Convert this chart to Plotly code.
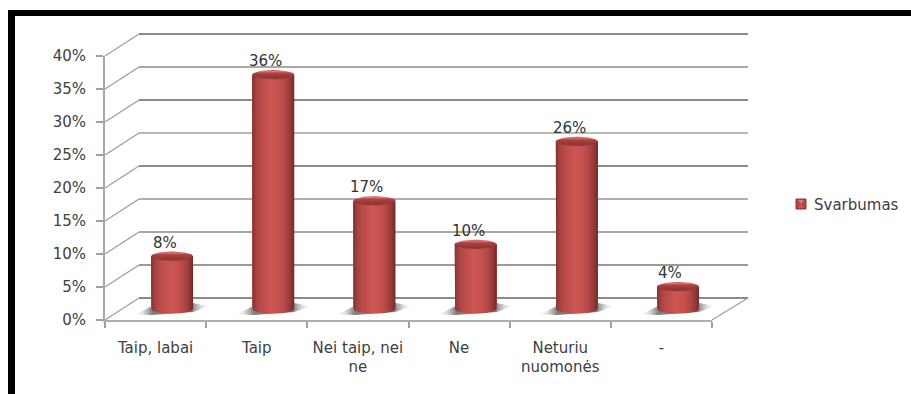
import numpy as np
import plotly.graph_objects as go

categories = ["Taip, labai", "Taip", "Nei taip, nei<br>ne", "Ne", "Neturiu<br>nuomonės", "-"]
values = [8.0, 35.5, 16.4, 9.8, 25.4, 3.4]
value_labels = ["8%", "36%", "17%", "10%", "26%", "4%"]
y_ticks = [0, 5, 10, 15, 20, 25, 30, 35, 40]
y_tick_labels = ["0%", "5%", "10%", "15%", "20%", "25%", "30%", "35%", "40%"]
series_name = "Svarbumas"

W, H = 911, 394
FONT = "DejaVu Sans"
TXT = "#404040"
GRID = {0: "#8a8a8a", 5: "#9a9a9a", 10: "#a8a8a8", 15: "#b0b0b0", 20: "#8a8a8a",
        25: "#b8b8b8", 30: "#8a8a8a", 35: "#a8a8a8", 40: "#8a8a8a"}

# pixel geometry of the fake 3D box
FX0, FX1, FY0, FY40 = 105, 712, 320, 56   # front plane
DX, DY = 34, -22                          # depth
PX_PER_PCT = (FY0 - FY40) / 40
STEP = (FX1 - FX0) / 6
MIDX0 = FX0 + STEP / 2 + DX / 2 - 0.5     # px of bar 0 centre
MIDY0 = FY0 + DY / 2                      # px of bars' zero


def px(x):
    return x / W


def py(y):
    return 1 - y / H


def line(x0, y0, x1, y1, color, width):
    return dict(type="line", xref="paper", yref="paper", x0=px(x0), y0=py(y0), x1=px(x1), y1=py(y1),
                line=dict(color=color, width=width), layer="below")


shapes = [
    dict(type="rect", xref="paper", yref="paper", x0=px(8), x1=px(15), y0=py(10), y1=0,
         fillcolor="black", line_width=0),
    dict(type="rect", xref="paper", yref="paper", x0=px(8), x1=1, y0=py(10), y1=py(16),
         fillcolor="black", line_width=0),
]
for t in y_ticks:
    yf = FY0 - t * PX_PER_PCT
    shapes.append(line(FX0, yf, FX0 + DX, yf + DY, "#9c9c9c", 1.2))
    shapes.append(line(FX0 + DX, yf + DY, FX1 + DX + 2, yf + DY, GRID[t], 2))
shapes.append(line(FX1, FY0, FX1 + DX + 2, FY0 + DY, "#a0a0a0", 1.2))

# legend swatch
shapes += [
    dict(type="rect", xref="paper", yref="paper", x0=px(796), x1=px(806), y0=py(199), y1=py(209),
         fillcolor="#b04744", line=dict(color="#8a3634", width=1)),
    dict(type="path", xref="paper", yref="paper",
         path=f"M {px(798)} {py(200)} L {px(801)} {py(204)} L {px(804)} {py(200)} Z", fillcolor="#dd7a76", line_width=0),
    dict(type="path", xref="paper", yref="paper",
         path=f"M {px(798)} {py(208)} L {px(801)} {py(204)} L {px(804)} {py(208)} Z", fillcolor="#c85a56", line_width=0),
]

fig = go.Figure()

# Front plane: real axes with the ticks and labels
fig.add_trace(go.Scatter(x=categories, y=values, mode="none", hoverinfo="skip", showlegend=False,
                         xaxis="x", yaxis="y"))

# Mid plane: a page-wide value/index axis pair where the columns live
ix = dict(xaxis="x2", yaxis="y2", hoverinfo="skip", showlegend=False)
idx = list(range(len(values)))
half = 21 / STEP
b = 4.6 / PX_PER_PCT
s = 1 / STEP
u = 1 / PX_PER_PCT
th = np.linspace(0, np.pi, 40)

BODY = [[0, "#7f302e"], [0.08, "#a04140"], [0.2, "#b84a48"], [0.45, "#cc5653"], [0.62, "#c65351"],
        [0.8, "#b04644"], [0.93, "#8d3735"], [1, "#6e2927"]]
CAP = [[0, "#8a3533"], [0.4, "#9a3b39"], [0.68, "#b04644"], [0.86, "#e57470"], [1, "#c44f4c"]]
SHADOW = [[0, "rgba(130,130,130,0)"], [0.1, "rgba(140,140,140,0.25)"], [0.24, "rgba(125,125,125,1)"],
          [0.76, "rgba(125,125,125,1)"], [0.9, "rgba(140,140,140,0.25)"], [1, "rgba(130,130,130,0)"]]

for i in idx:
    sx = [i - 37 * s, i - 20 * s, i + 21 * s, i + 37 * s, i + 21 * s, i - 20 * s, i - 37 * s]
    sy = [-5.5 * u, 3 * u, 6 * u, 3 * u, -3 * u, -6 * u, -5.5 * u]
    fig.add_trace(go.Scatter(x=sx, y=sy, mode="lines", line=dict(width=0), fill="toself",
                             fillgradient=dict(type="horizontal", colorscale=SHADOW), **ix))

fig.add_trace(go.Bar(x=idx, y=values, width=2 * half, name=series_name,
                     marker=dict(color="#bb4b48", line_width=0), **ix))

for i, v in zip(idx, values):
    # cylinder body with rounded bottom
    bx = np.concatenate([[i - half], i - half * np.cos(th), [i + half]])
    by = np.concatenate([[v], -b * np.sin(th), [v]])
    fig.add_trace(go.Scatter(x=bx, y=by, mode="lines", line=dict(width=0), fill="toself",
                             fillgradient=dict(type="horizontal", colorscale=BODY), **ix))
    # top cap
    t2 = np.linspace(0, 2 * np.pi, 60)
    fig.add_trace(go.Scatter(x=i + half * np.cos(t2), y=v + b * np.sin(t2), mode="lines", line=dict(width=0),
                             fill="toself", fillgradient=dict(type="vertical", colorscale=CAP), **ix))

annotations = [
    dict(x=i, y=v, xref="x2", yref="y2", text=lab, showarrow=False, xshift=-7.5, yshift=13.5,
         font=dict(family=FONT, size=15, color="#333333"))
    for i, v, lab in zip(idx, values, value_labels)
]
annotations.append(dict(x=px(812), y=py(204.5), xref="paper", yref="paper", text=series_name, showarrow=False,
                        xanchor="left", yanchor="middle", font=dict(family=FONT, size=15, color=TXT)))

fig.update_layout(
    width=W, height=H, margin=dict(l=0, r=0, t=0, b=0, autoexpand=False, pad=0), autosize=False,
    template="none",
    paper_bgcolor="white", plot_bgcolor="rgba(0,0,0,0)", showlegend=False,
    shapes=shapes, annotations=annotations, bargap=0,
    font=dict(family=FONT, size=15, color=TXT),
    xaxis=dict(domain=[px(FX0), px(FX1)], type="category", categoryorder="array", categoryarray=categories,
               tickson="boundaries", ticks="outside", ticklen=6, tickwidth=1.5, tickcolor="#a0a0a0",
               showline=True, linecolor="#b0b0b0", linewidth=1.5, showgrid=False, zeroline=False, automargin=False,
               range=[-0.5, 5.5], anchor="y", ticklabelstandoff=13, tickangle=0,
               tickfont=dict(family=FONT, size=15, color=TXT)),
    yaxis=dict(domain=[py(FY0), py(FY40)], range=[0, 40], tickvals=y_ticks, ticktext=y_tick_labels, ticks="outside",
               ticklen=7, tickwidth=1.5, tickcolor="#a0a0a0", showline=True, linecolor="#a8a8a8", linewidth=2,
               showgrid=False, zeroline=False, anchor="x", ticklabelstandoff=7, automargin=False,
               tickfont=dict(family=FONT, size=15, color=TXT)),
    xaxis2=dict(domain=[0, 1], range=[(0 - MIDX0) / STEP, (W - MIDX0) / STEP], visible=False, anchor="y2", automargin=False),
    yaxis2=dict(domain=[0, 1], range=[(MIDY0 - H) / PX_PER_PCT, MIDY0 / PX_PER_PCT], visible=False, anchor="x2", automargin=False),
)

fig.write_html("out.html", config=dict(displayModeBar=False),
               post_script="document.body.style.margin='0';document.body.style.overflow='hidden';")
